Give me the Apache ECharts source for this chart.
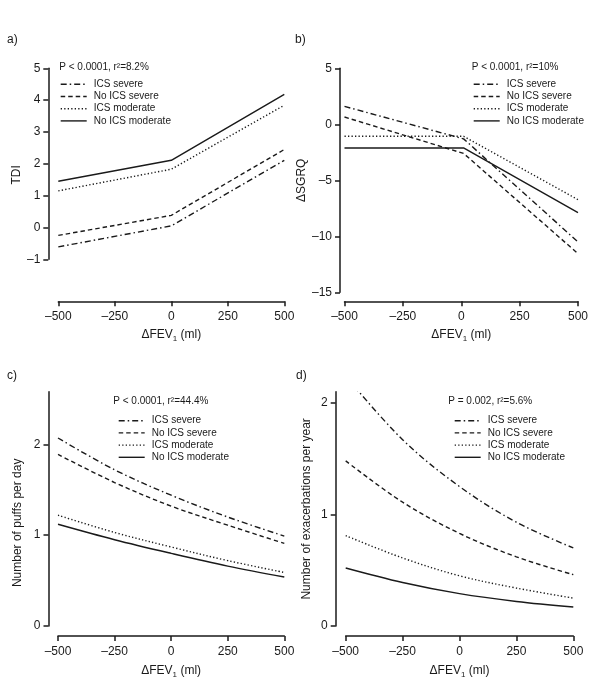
<!DOCTYPE html>
<html>
<head>
<meta charset="utf-8">
<script src="https://cdn.jsdelivr.net/npm/echarts@6/dist/echarts.min.js"></script>
<style>html,body{margin:0;padding:0;background:#fff}#c{width:600px;height:681px}</style>
</head>
<body>
<div id="c"></div>
<script>
// ---- data ----
const seriesNames = ['ICS severe', 'No ICS severe', 'ICS moderate', 'No ICS moderate'];
const xTicks = [-500, -250, 0, 250, 500];

// a) TDI (piecewise linear, knot at 0)
const tdiX = [-500, 0, 500];
const tdiIcsSevere = [-0.61, 0.05, 2.11];
const tdiNoIcsSevere = [-0.25, 0.38, 2.45];
const tdiIcsModerate = [1.15, 1.83, 3.84];
const tdiNoIcsModerate = [1.45, 2.11, 4.18];

// b) ΔSGRQ (piecewise linear)
const sgrqX = [-500, 10, 500];
const sgrqIcsSevere = [1.6, -1.3, -10.5];
const sgrqNoIcsSevere = [0.65, -2.6, -11.55];
const sgrqIcsModerate = [-1.07, -1.07, -6.73];
const sgrqNoIcsModerate = [-2.11, -2.11, -7.88];

// c) puffs per day
const puffX = [-500, -250, 0, 250, 500];
const puffIcsSevere = [2.07, 1.72, 1.44, 1.20, 0.99];
const puffNoIcsSevere = [1.89, 1.58, 1.32, 1.11, 0.91];
const puffIcsModerate = [1.22, 1.03, 0.87, 0.72, 0.59];
const puffNoIcsModerate = [1.12, 0.95, 0.80, 0.66, 0.54];

// d) exacerbations per year
const exaX = [-500, -250, 0, 250, 500];
const exaIcsSevere = [2.24, 1.67, 1.25, 0.93, 0.70];
const exaNoIcsSevere = [1.48, 1.11, 0.83, 0.62, 0.46];
const exaIcsModerate = [0.81, 0.61, 0.45, 0.34, 0.25];
const exaNoIcsModerate = [0.52, 0.39, 0.29, 0.22, 0.17];

const statsText = ['P < 0.0001, r²=8.2%', 'P < 0.0001, r²=10%', 'P < 0.0001, r²=44.4%', 'P = 0.002, r²=5.6%'];
const yTitles = ['TDI', 'ΔSGRQ', 'Number of puffs per day', 'Number of exacerbations per year'];
const panelLabels = ['a)', 'b)', 'c)', 'd)'];

// ---- styles ----
const INK = '#1a1a1a';
const FONT = '"Liberation Sans", Arial, Helvetica, sans-serif';
const dashTypes = [[6, 3, 1.5, 3], [4.5, 3], [1.3, 2.2], 'solid'];

const grids = [
  {left: 58.3, right: 315.7, top: 68.3, bottom: 421.7},
  {left: 344.5, right: 22, top: 68.3, bottom: 388.7},
  {left: 58, right: 315.7, top: 391.7, bottom: 55},
  {left: 345.7, right: 26.7, top: 391.7, bottom: 55}
];
const xOffsets = [42, 9, 10, 10];
const xLabelMargins = [9, 9, 10, 10];
const xNameGaps = [25, 25, 27, 27];
const yOffsets = [10, 4.5, 9.5, 10];
const yRanges = [
  {min: -1, max: 5, interval: 1},
  {min: -15, max: 5, interval: 5},
  {min: 0, max: 2.58, interval: 1, custom: [0, 1, 2]},
  {min: 0, max: 2.1, interval: 1, custom: [0, 1, 2]}
];
const yNameGaps = [23, 24, 24.5, 23];
const yNamePad = [[0, 22, 0, 0], [0, 0, 0, 0], [0, 28, 0, 0], [0, 0, 0, 0]];

const fmtNum = v => String(v).replace('-', '–');

const xAxes = grids.map((g, i) => ({
  type: 'value', gridIndex: i, min: -500, max: 500, interval: 250,
  position: 'bottom', offset: xOffsets[i],
  axisLine: {show: true, onZero: false, lineStyle: {color: INK, width: 1.5}},
  axisTick: {show: true, length: 5, inside: false, lineStyle: {color: INK, width: 1.5}, customValues: xTicks},
  axisLabel: {color: INK, fontSize: 12, fontFamily: FONT, margin: xLabelMargins[i], formatter: fmtNum, customValues: xTicks},
  splitLine: {show: false},
  name: 'ΔFEV{s|1} (ml)', nameLocation: 'middle', nameGap: xNameGaps[i],
  nameTextStyle: {color: INK, fontSize: 12, fontFamily: FONT, lineHeight: 16,
    rich: {s: {fontSize: 8, lineHeight: 9, verticalAlign: 'bottom', fontFamily: FONT, color: INK}}}
}));

const yAxes = grids.map((g, i) => {
  const r = yRanges[i];
  const ax = {
    type: 'value', gridIndex: i, min: r.min, max: r.max, interval: r.interval,
    position: 'left', offset: yOffsets[i],
    axisLine: {show: true, onZero: false, lineStyle: {color: INK, width: 1.5}},
    axisTick: {show: true, length: 5, inside: false, lineStyle: {color: INK, width: 1.5}},
    axisLabel: {color: INK, fontSize: 12, fontFamily: FONT, margin: 8, formatter: fmtNum},
    splitLine: {show: false},
    name: yTitles[i], nameLocation: 'middle', nameGap: yNameGaps[i],
    nameTextStyle: {color: INK, fontSize: 12, fontFamily: FONT, padding: yNamePad[i]}
  };
  if (r.custom) {
    ax.axisTick.customValues = r.custom;
    ax.axisLabel.customValues = r.custom;
  }
  return ax;
});

const panelData = [
  [tdiX, [tdiIcsSevere, tdiNoIcsSevere, tdiIcsModerate, tdiNoIcsModerate], false],
  [sgrqX, [sgrqIcsSevere, sgrqNoIcsSevere, sgrqIcsModerate, sgrqNoIcsModerate], false],
  [puffX, [puffIcsSevere, puffNoIcsSevere, puffIcsModerate, puffNoIcsModerate], true],
  [exaX, [exaIcsSevere, exaNoIcsSevere, exaIcsModerate, exaNoIcsModerate], true]
];

const series = [];
panelData.forEach(([xs, ys, smooth], p) => {
  ys.forEach((vals, k) => {
    series.push({
      type: 'line', name: seriesNames[k], xAxisIndex: p, yAxisIndex: p,
      data: xs.map((x, j) => [x, vals[j]]),
      smooth: smooth ? 0.35 : false, symbol: 'none', clip: true,
      lineStyle: {color: INK, width: 1.4, type: dashTypes[k]},
      itemStyle: {color: INK},
      emphasis: {disabled: true}, silent: true, animation: false
    });
  });
});

const legendPos = [
  {left: 60, top: 79.3}, {left: 473, top: 79.3},
  {left: 118, top: 415.7}, {left: 454, top: 415.7}
];
const legends = legendPos.map(pos => ({
  left: pos.left, top: pos.top, orient: 'vertical', data: seriesNames,
  padding: 0,
  itemWidth: 26, itemHeight: 10, itemGap: 2.2, selectedMode: false,
  textStyle: {color: INK, fontSize: 10, fontFamily: FONT, lineHeight: 10, padding: [0, 0, 0, 2]},
  itemStyle: {opacity: 0, borderWidth: 0},
  lineStyle: {width: 1.4}
}));

const statPos = [[59.3, 68.3], [471.7, 68.3], [113.3, 402.7], [448.3, 402.7]];
const labelPos = [[7, 41], [295, 41], [7, 377], [296, 377]];
const graphics = [];
statPos.forEach((p, i) => graphics.push({
  type: 'text', left: p[0], top: p[1] - 6,
  style: {text: statsText[i], fill: INK, font: '10px ' + FONT}
}));
labelPos.forEach((p, i) => graphics.push({
  type: 'text', left: p[0], top: p[1] - 7,
  style: {text: panelLabels[i], fill: INK, font: '12px ' + FONT}
}));

const chart = echarts.init(document.getElementById('c'), null, {renderer: 'canvas'});
chart.setOption({
  animation: false,
  backgroundColor: '#fff',
  grid: grids,
  xAxis: xAxes,
  yAxis: yAxes,
  legend: legends,
  graphic: graphics,
  series: series
});
</script>
</body>
</html>
